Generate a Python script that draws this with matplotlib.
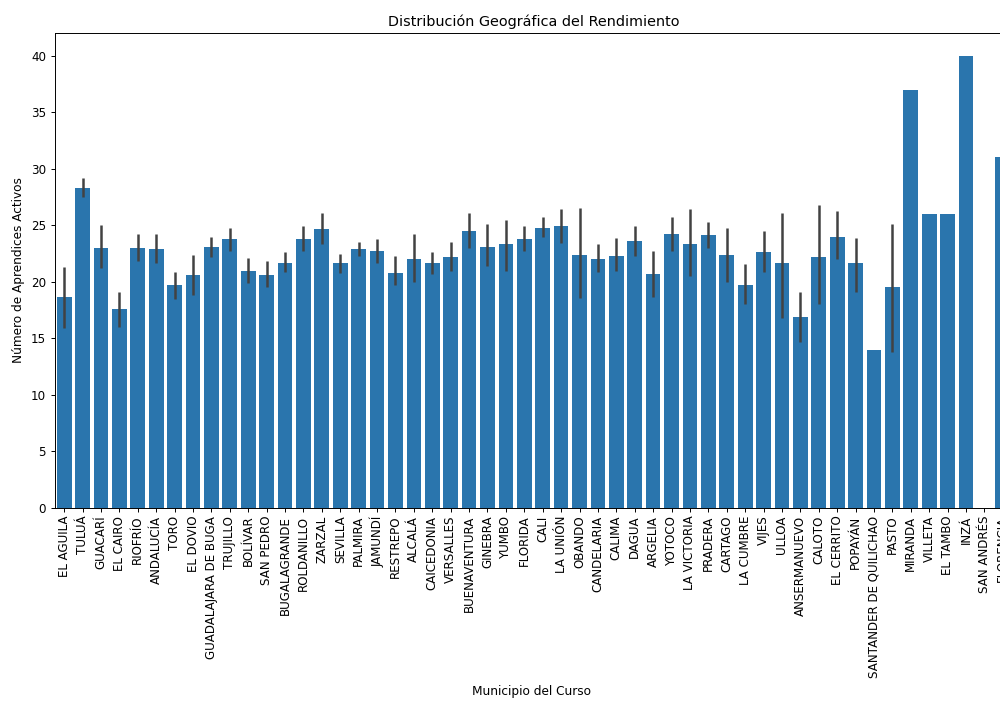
import numpy as np
import matplotlib
matplotlib.use("Agg")
import matplotlib.pyplot as plt

municipios = [
    "EL AGUILA", "TULUÁ", "GUACARÍ", "EL CAIRO", "RIOFRÍO", "ANDALUCÍA", "TORO",
    "EL DOVIO", "GUADALAJARA DE BUGA", "TRUJILLO", "BOLÍVAR", "SAN PEDRO",
    "BUGALAGRANDE", "ROLDANILLO", "ZARZAL", "SEVILLA", "PALMIRA", "JAMUNDÍ",
    "RESTREPO", "ALCALÁ", "CAICEDONIA", "VERSALLES", "BUENAVENTURA", "GINEBRA",
    "YUMBO", "FLORIDA", "CALI", "LA UNIÓN", "OBANDO", "CANDELARIA", "CALIMA",
    "DAGUA", "ARGELIA", "YOTOCO", "LA VICTORIA", "PRADERA", "CARTAGO",
    "LA CUMBRE", "VIJES", "ULLOA", "ANSERMANUEVO", "CALOTO", "EL CERRITO",
    "POPAYÁN", "SANTANDER DE QUILICHAO", "PASTO", "MIRANDA", "VILLETA",
    "EL TAMBO", "INZÁ", "SAN ANDRÉS", "FLORENCIA",
]

# mean active learners per municipality
media = [
    18.7, 28.3, 23.0, 17.6, 23.0, 22.9, 19.7, 20.6, 23.1, 23.8, 21.0, 20.6,
    21.7, 23.8, 24.7, 21.7, 22.9, 22.7, 20.8, 22.0, 21.7, 22.2, 24.5, 23.1,
    23.3, 23.8, 24.8, 24.9, 22.4, 22.0, 22.3, 23.6, 20.7, 24.2, 23.3, 24.1,
    22.4, 19.7, 22.6, 21.7, 16.9, 22.2, 24.0, 21.7, 14.0, 19.5, 37.0, 26.0,
    26.0, 40.0, np.nan, 31.0,
]

# 95% confidence interval bounds (nan where only one course exists)
ic_inf = [
    15.9, 27.5, 21.2, 16.0, 21.8, 21.7, 18.5, 18.8, 22.2, 22.7, 19.9, 19.5,
    20.9, 22.7, 23.3, 20.8, 22.3, 21.7, 19.7, 20.0, 20.7, 21.0, 23.0, 21.4,
    21.0, 22.7, 24.0, 23.4, 18.6, 20.9, 21.0, 22.3, 18.7, 22.7, 20.5, 23.0,
    20.0, 18.0, 20.9, 16.8, 14.7, 18.0, 22.0, 19.1, np.nan, 13.8, np.nan,
    np.nan, np.nan, np.nan, np.nan, np.nan,
]
ic_sup = [
    21.3, 29.2, 25.0, 19.1, 24.2, 24.2, 20.9, 22.4, 24.0, 24.8, 22.1, 21.8,
    22.6, 24.9, 26.1, 22.5, 23.5, 23.8, 22.3, 24.2, 22.6, 23.5, 26.1, 25.1,
    25.5, 24.9, 25.7, 26.4, 26.5, 23.3, 23.9, 24.9, 22.7, 25.7, 26.4, 25.3,
    24.8, 21.6, 24.5, 26.1, 19.1, 26.8, 26.3, 23.9, np.nan, 25.1, np.nan,
    np.nan, np.nan, np.nan, np.nan, np.nan,
]

W, H = 1000, 702
fig = plt.figure(figsize=(W / 100, H / 100), dpi=100)
# the plotting area runs slightly past the right edge of the canvas
ax = fig.add_axes([55 / W, 1 - 508 / H, 957 / W, 475 / H])

x = np.arange(len(municipios))
bar_color = "#2a75ad"
ax.bar(x, media, width=0.8, color=bar_color, linewidth=0)
for xi, lo, hi in zip(x, ic_inf, ic_sup):
    if np.isfinite(lo) and np.isfinite(hi):
        ax.plot([xi, xi], [lo, hi], color="#424242", linewidth=1.8,
                solid_capstyle="butt")

ax.set_xlim(-0.5, len(municipios) - 0.5)
ax.set_ylim(0, 42)
ax.set_yticks(range(0, 41, 5))
ax.set_xticks(x)
ax.set_xticklabels(municipios, rotation=90, fontsize=8.6)
ax.tick_params(axis="y", labelsize=8.6, length=3, width=0.7)
ax.tick_params(axis="x", length=3, width=0.7, pad=2.5)
for s in ax.spines.values():
    s.set_linewidth(0.7)

ax.set_title("Distribución Geográfica del Rendimiento", fontsize=10.4, pad=5)
ax.set_ylabel("Número de Aprendices Activos", fontsize=8.7)
ax.set_xlabel("Municipio del Curso", fontsize=8.7)
ax.xaxis.set_label_coords(477 / 957, -(685 - 508) / 475)

fig.savefig("out.png", dpi=100)
